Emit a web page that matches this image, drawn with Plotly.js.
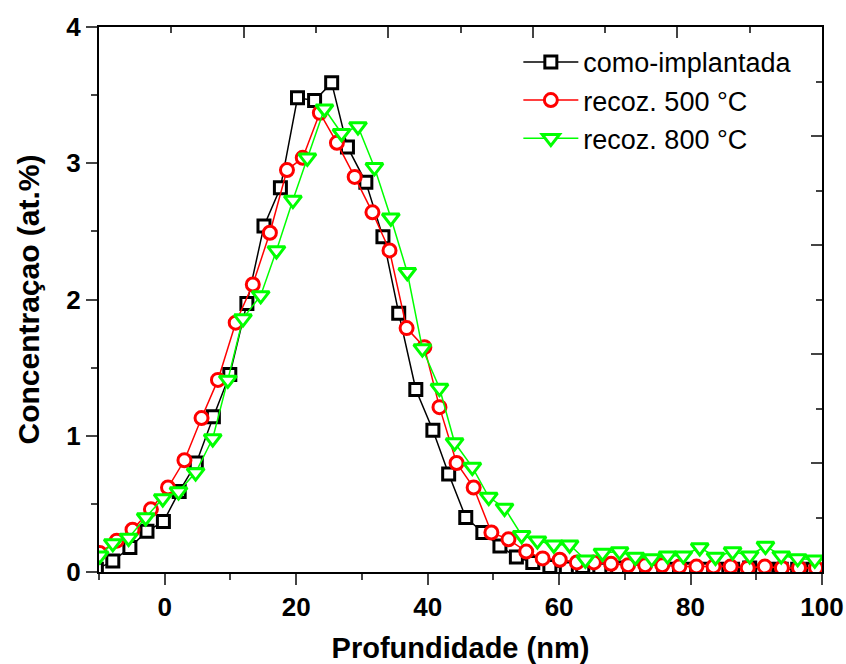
<!DOCTYPE html>
<html>
<head>
<meta charset="utf-8">
<script src="https://cdn.plot.ly/plotly-3.0.1.min.js"></script>
<style>html,body{margin:0;padding:0;background:#fff;}#chart{width:846px;height:664px;}</style>
</head>
<body>
<div id="chart"></div>
<script>
// como-implantada
const xImpl = [-10.4, -7.9, -5.3, -2.7, -0.2, 2.2, 4.8, 7.4, 9.9, 12.5, 15.1, 17.6, 20.2, 22.8, 25.4, 27.8, 30.6, 33.2, 35.6, 38.2, 40.8, 43.2, 45.8, 48.4, 51.0, 53.5, 56.0, 58.6, 61.1, 63.6, 66.2, 68.9, 71.5, 74.1, 76.5, 79.1, 81.7, 84.0, 86.4, 89.0, 91.6, 93.8, 96.3, 98.6];
const yImpl = [0.02, 0.08, 0.18, 0.30, 0.37, 0.59, 0.80, 1.14, 1.45, 1.97, 2.54, 2.82, 3.48, 3.46, 3.59, 3.12, 2.86, 2.46, 1.90, 1.34, 1.04, 0.72, 0.40, 0.29, 0.19, 0.11, 0.07, 0.04, 0.03, 0.04, 0.02, 0.03, 0.02, 0.02, 0.02, 0.02, 0.02, 0.02, 0.02, 0.03, 0.02, 0.02, 0.02, 0.02];
// recoz. 500 °C
const x500 = [-9.9, -7.3, -4.9, -2.1, 0.5, 3.0, 5.6, 8.1, 10.8, 13.4, 16.0, 18.6, 21.0, 23.6, 26.2, 28.9, 31.6, 34.2, 36.8, 39.5, 41.8, 44.4, 47.0, 49.7, 52.3, 55.0, 57.5, 60.1, 62.7, 65.3, 67.9, 70.5, 73.1, 75.7, 78.3, 80.9, 83.5, 86.1, 88.7, 91.3, 93.9, 96.5, 99.1];
const y500 = [0.14, 0.23, 0.31, 0.46, 0.62, 0.82, 1.13, 1.41, 1.83, 2.11, 2.49, 2.95, 3.04, 3.37, 3.15, 2.90, 2.64, 2.36, 1.79, 1.65, 1.21, 0.80, 0.62, 0.29, 0.24, 0.15, 0.10, 0.09, 0.07, 0.07, 0.06, 0.05, 0.05, 0.05, 0.04, 0.04, 0.04, 0.04, 0.03, 0.04, 0.03, 0.03, 0.03];
// recoz. 800 °C
const x800 = [-9.9, -7.9, -5.5, -2.9, -0.3, 2.1, 4.7, 7.3, 9.6, 11.9, 14.6, 17.0, 19.5, 21.7, 24.3, 26.9, 29.4, 31.9, 34.4, 36.9, 39.2, 41.8, 44.1, 46.8, 49.3, 51.7, 54.3, 56.7, 59.2, 61.6, 64.0, 66.6, 69.2, 71.6, 74.1, 76.5, 78.9, 81.4, 83.8, 86.4, 89.0, 91.4, 93.8, 96.3, 98.9];
const y800 = [0.12, 0.21, 0.25, 0.40, 0.54, 0.59, 0.73, 0.98, 1.41, 1.86, 2.03, 2.36, 2.73, 3.04, 3.40, 3.22, 3.27, 2.97, 2.60, 2.20, 1.64, 1.35, 0.95, 0.77, 0.55, 0.47, 0.27, 0.23, 0.20, 0.20, 0.09, 0.14, 0.15, 0.11, 0.10, 0.12, 0.12, 0.18, 0.11, 0.15, 0.12, 0.19, 0.12, 0.10, 0.09];

const names = ['como-implantada', 'recoz. 500 \u00b0C', 'recoz. 800 \u00b0C'];
const xTitle = 'Profundidade (nm)';
const yTitle = 'Concentra\u00e7ao (at.%)';

const FONT = 'Liberation Sans, Arial, sans-serif';

const traces = [
  {x: xImpl, y: yImpl, name: names[0], mode: 'lines+markers', cliponaxis: true,
   line: {color: '#000000', width: 1.5},
   marker: {symbol: 'square', size: 12, color: '#ffffff', line: {color: '#000000', width: 3}}},
  {x: x500, y: y500, name: names[1], mode: 'lines+markers',
   line: {color: '#ff0000', width: 1.5},
   marker: {symbol: 'circle', size: 13, color: '#ffffff', line: {color: '#ff0000', width: 3}}},
  {x: x800, y: y800, name: names[2], mode: 'lines+markers',
   line: {color: '#00ff00', width: 1.5},
   marker: {symbol: 'triangle-down', size: 15, color: '#ffffff', line: {color: '#00ff00', width: 3}}},
  {x: [0], y: [0], xaxis: 'x2', yaxis: 'y2', mode: 'markers', marker: {opacity: 0}, showlegend: false, hoverinfo: 'skip'}
];

const layout = {
  width: 846, height: 664,
  margin: {l: 99, r: 24, t: 27, b: 92},
  paper_bgcolor: '#ffffff', plot_bgcolor: '#ffffff',
  showlegend: true,
  legend: {x: 0.58, y: 0.98, xanchor: 'left', yanchor: 'top', bgcolor: 'rgba(0,0,0,0)',
           font: {family: FONT, size: 27, color: '#000'}, itemwidth: 55, tracegroupgap: 0},
  xaxis: {range: [-10, 100], dtick: 20, tick0: 0, ticks: 'outside', ticklen: 11, tickwidth: 2,
          minor: {dtick: 10, tick0: 0, ticks: 'outside', ticklen: 6, tickwidth: 2},
          showline: true, linewidth: 2, linecolor: '#000', showgrid: false, zeroline: false,
          tickfont: {family: FONT, size: 26, weight: 'bold', color: '#000'},
          title: {text: xTitle, font: {family: FONT, size: 29, weight: 'bold', color: '#000'}, standoff: 22}},
  yaxis: {range: [0, 4], dtick: 1, ticks: 'outside', ticklen: 11, tickwidth: 2,
          minor: {dtick: 0.5, ticks: 'outside', ticklen: 6, tickwidth: 2},
          showline: true, linewidth: 2, linecolor: '#000', showgrid: false, zeroline: false,
          tickfont: {family: FONT, size: 26, weight: 'bold', color: '#000'},
          title: {text: yTitle, font: {family: FONT, size: 30, weight: 'bold', color: '#000'}, standoff: 18}},
  xaxis2: {overlaying: 'x', side: 'top', range: [0, 100], dtick: 20, ticks: 'inside', ticklen: 11, tickwidth: 2,
           minor: {dtick: 10, ticks: 'inside', ticklen: 6, tickwidth: 2},
           showticklabels: false, showline: true, linewidth: 2, linecolor: '#000', showgrid: false, zeroline: false},
  yaxis2: {overlaying: 'y', side: 'right', range: [0, 5], dtick: 1, ticks: 'inside', ticklen: 11, tickwidth: 2,
           minor: {dtick: 0.5, ticks: 'inside', ticklen: 6, tickwidth: 2},
           showticklabels: false, showline: true, linewidth: 2, linecolor: '#000', showgrid: false, zeroline: false}
};

Plotly.newPlot('chart', traces, layout, {displayModeBar: false, staticPlot: true});
</script>
</body>
</html>
